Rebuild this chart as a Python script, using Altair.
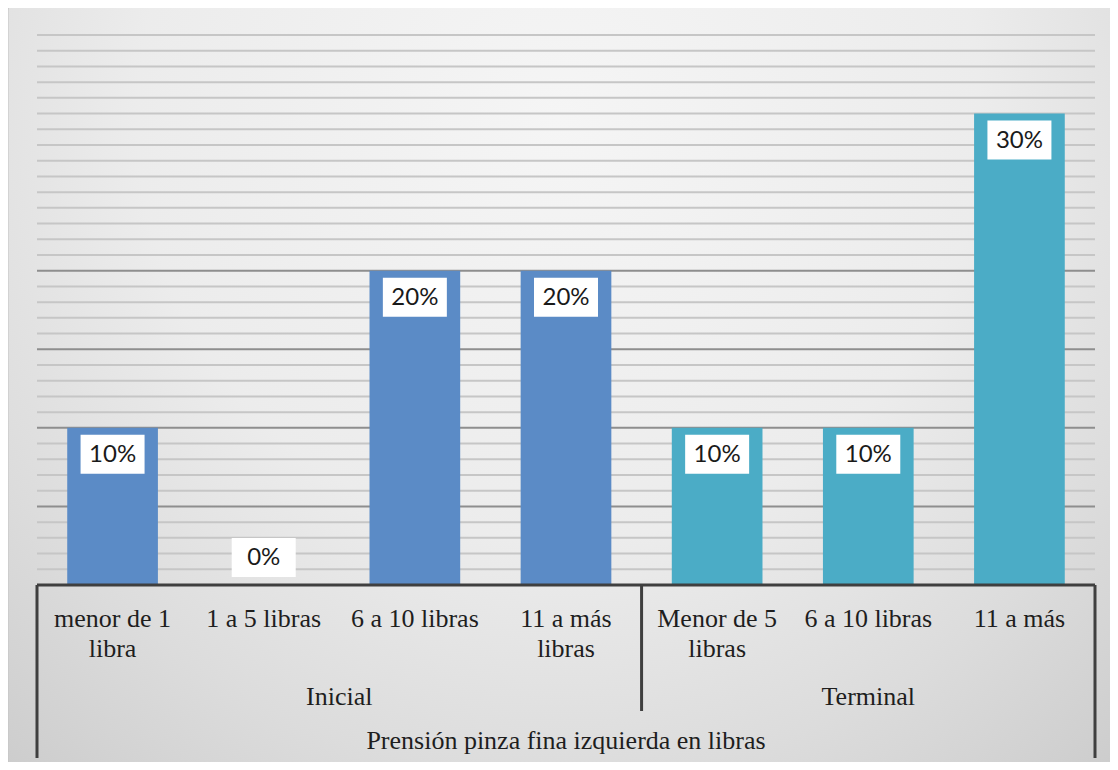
import altair as alt
import pandas as pd

# ---- data ----
categories = ["menor de 1\nlibra", "1 a 5 libras", "6 a 10 libras", "11 a más\nlibras",
              "Menor de 5\nlibras", "6 a 10 libras", "11 a más"]
groups = ["Inicial", "Inicial", "Inicial", "Inicial", "Terminal", "Terminal", "Terminal"]
values = [10, 0, 20, 20, 10, 10, 30]          # percent
group_names = ["Inicial", "Terminal"]
group_colors = ["#5b8bc6", "#4bacc6"]
axis_title = "Prensión pinza fina izquierda en libras"
y_max = 35
grid_values = list(range(0, y_max + 1))        # gridline every 1 %

W, H = 1058, 550
n = len(categories)

df = pd.DataFrame({
    "key": [f"{i:02d}" for i in range(n)],
    "cat": categories,
    "group": groups,
    "pct": values,
})
df["label"] = df["pct"].astype(str) + "%"

gstart, gend = [], []
for g in group_names:
    idx = [i for i, x in enumerate(groups) if x == g]
    gstart.append(min(idx))
    gend.append(max(idx) + 1)
gdf = pd.DataFrame({"group": group_names, "start": gstart, "end": gend})
gdf["mid"] = (gdf["start"] + gdf["end"]) / 2
inner = pd.DataFrame({"pos": gstart[1:]})
outer = pd.DataFrame({"pos": [0, n]})
grid = pd.DataFrame({"v": grid_values})

xq = alt.Scale(domain=[0, n], nice=False, zero=False)
yscale = alt.Scale(domain=[0, y_max], nice=False)
xband = alt.X("key:N", axis=None, sort=None)

# background gradient panel
bg = alt.Chart(alt.Data(values=[{}])).mark_rect(
    fill={
        "gradient": "radial",
        "x1": 0.5, "y1": 0.25, "r1": 0,
        "x2": 0.5, "y2": 0.25, "r2": 0.85,
        "stops": [
            {"offset": 0, "color": "#f5f5f5"},
            {"offset": 0.45, "color": "#ececec"},
            {"offset": 0.7, "color": "#dcdcdc"},
            {"offset": 1, "color": "#c6c6c6"},
        ],
    },
    stroke="#c4c4c4", strokeWidth=1, cornerRadius=5,
).encode(x=alt.value(-29), x2=alt.value(W + 16), y=alt.value(-30), y2=alt.value(H + 200))

gridlines = alt.Chart(grid).mark_rule(strokeWidth=2).encode(
    x=alt.value(0), x2=alt.value(W),
    y=alt.Y("v:Q", scale=yscale, axis=None),
    color=alt.condition("datum.v % 5 === 0 && datum.v <= 20",
                        alt.value("#8e8e8e"), alt.value("#c6c6c6")),
)

bars = alt.Chart(df).mark_bar().encode(
    x=xband,
    y=alt.Y("pct:Q", scale=yscale, axis=None),
    color=alt.Color("group:N", scale=alt.Scale(domain=group_names, range=group_colors), legend=None),
)

baseline = alt.Chart(alt.Data(values=[{}])).mark_rule(color="#3f3f3f", strokeWidth=3).encode(
    x=alt.value(0), x2=alt.value(W), y=alt.value(H))

inner_rules = alt.Chart(inner).mark_rule(color="#3f3f3f", strokeWidth=3).encode(
    x=alt.X("pos:Q", scale=xq, axis=None), y=alt.value(H), y2=alt.value(676))
outer_rules = alt.Chart(outer).mark_rule(color="#3f3f3f", strokeWidth=3).encode(
    x=alt.X("pos:Q", scale=xq, axis=None), y=alt.value(H), y2=alt.value(723))

boxes = alt.Chart(df).mark_bar(
    width=64, fill="white",
    yOffset=alt.expr("datum.pct > 0 ? 7 : -47"),
    y2Offset=alt.expr("datum.pct > 0 ? 46 : -8"),
).encode(
    x=xband,
    y=alt.Y("pct:Q", scale=yscale, axis=None),
    y2="pct:Q",
)

labels = alt.Chart(df).mark_text(
    font="Lato", fontSize=24, color="#1a1a1a", baseline="middle", align="center",
    yOffset=alt.expr("datum.pct > 0 ? 27 : -27"),
).encode(
    x=xband,
    y=alt.Y("pct:Q", scale=yscale, axis=None),
    text="label:N",
)

cat_text = alt.Chart(df).mark_text(
    font="Liberation Serif", fontSize=26, color="#1e1e1e", lineBreak="\n", lineHeight=30,
    baseline="alphabetic", align="center",
).encode(x=xband, y=alt.value(592), text="cat:N")

group_text = alt.Chart(gdf).mark_text(
    font="Liberation Serif", fontSize=26, color="#1e1e1e", baseline="alphabetic", align="center",
).encode(x=alt.X("mid:Q", scale=xq, axis=None), y=alt.value(670), text="group:N")

title_text = alt.Chart(pd.DataFrame({"t": [axis_title]})).mark_text(
    font="Liberation Serif", fontSize=26, color="#1e1e1e", baseline="alphabetic", align="center",
).encode(x=alt.value(W / 2), y=alt.value(714), text="t:N")

chart = alt.layer(
    bg, gridlines, bars, baseline, inner_rules, outer_rules, boxes, labels,
    cat_text, group_text, title_text,
).resolve_scale(x="independent").properties(
    width=W, height=H,
    padding={"left": 29, "top": 27, "right": 15, "bottom": 177},
    autosize=alt.AutoSizeParams(type="none"),
    background="white",
).configure_view(stroke=None).configure_scale(bandPaddingInner=0.4, bandPaddingOuter=0.2)

chart.save("out.html", embed_options={"renderer": "svg", "actions": False})
